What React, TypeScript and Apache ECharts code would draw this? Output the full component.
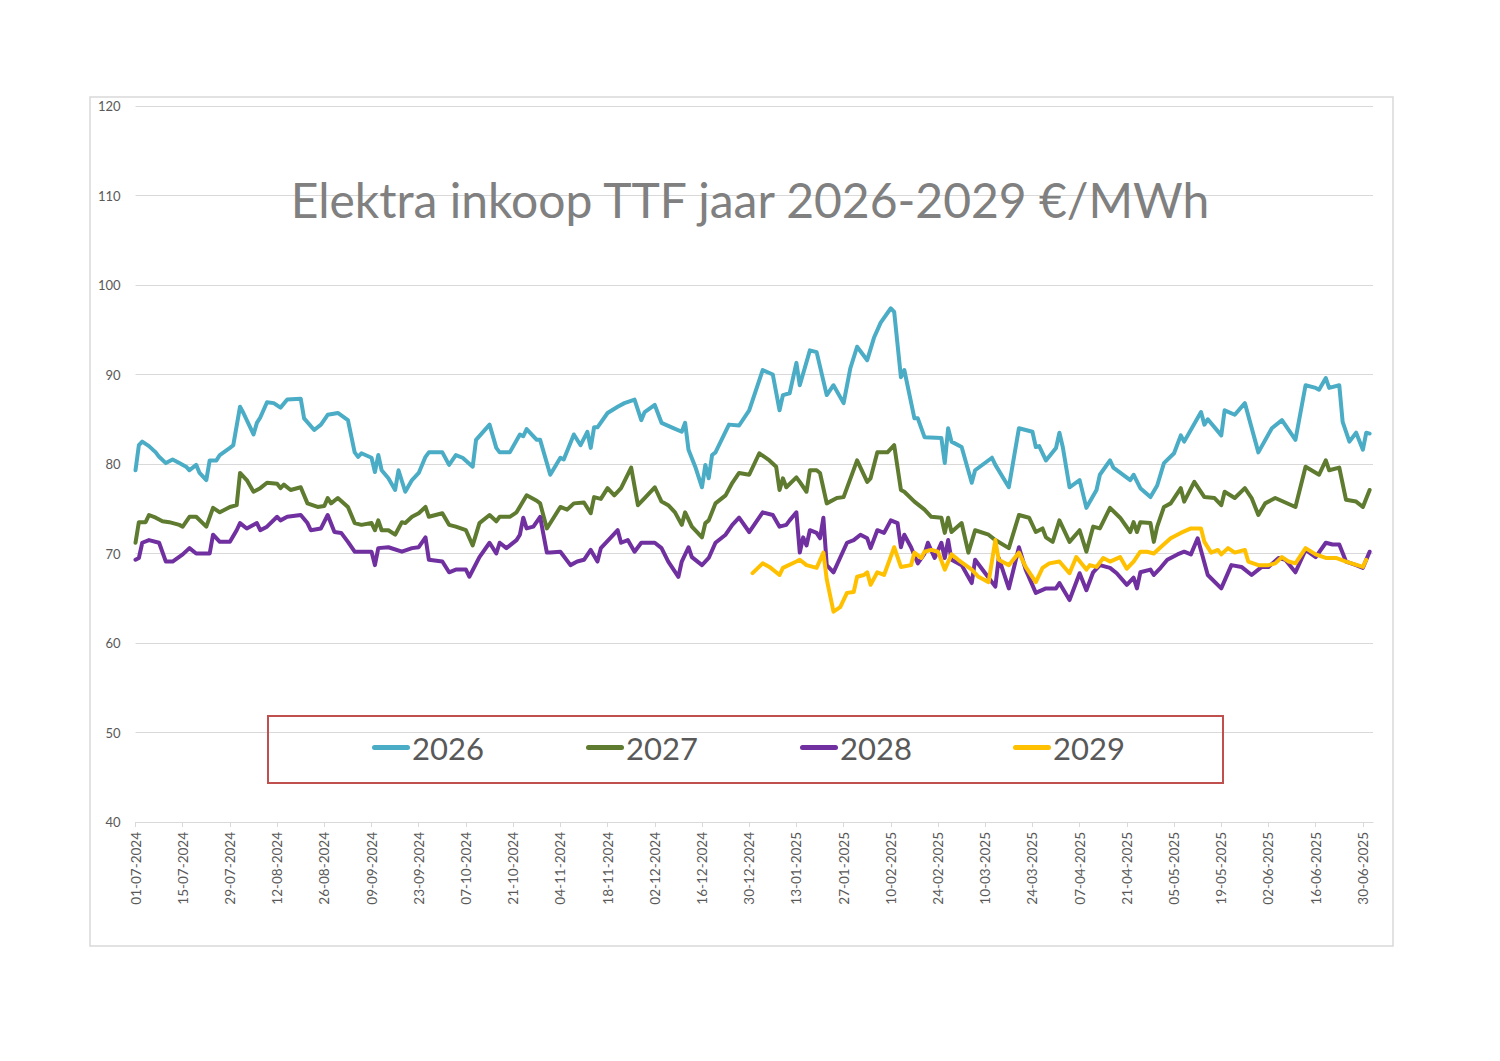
import React, { useEffect, useRef } from "react";
import * as echarts from "echarts";

// Day offsets from 01-07-2024 and values (€/MWh)
const days2026 = [0,1,2,4,6,7,9,11,13,15,16,18,19,21,22,24,25,28,29,31,32,35,36,37,39,41,43,45,49,50,53,55,57,60,63,65,66,67,70,71,72,73,75,77,78,80,82,84,86,87,91,93,95,97,100,101,105,107,108,111,114,115,116,119,120,123,126,127,130,132,134,135,136,137,140,143,145,148,150,151,154,156,159,162,163,164,166,168,169,170,171,172,176,179,182,186,189,191,192,194,196,197,200,202,205,207,210,212,214,217,219,221,224,225,227,228,231,232,234,239,240,241,242,245,248,249,254,255,259,262,264,266,267,268,270,273,274,275,277,280,282,285,286,289,290,295,296,298,301,303,305,308,310,311,316,317,318,322,323,326,329,333,337,340,344,347,350,351,353,354,357,358,360,362,364,365,366];
const vals2026 = [79.3,82.1,82.5,82.0,81.3,80.8,80.1,80.5,80.1,79.7,79.3,79.9,79.0,78.2,80.4,80.4,81.0,81.8,82.1,86.4,85.7,83.3,84.6,85.2,86.9,86.8,86.3,87.2,87.3,85.1,83.8,84.4,85.5,85.7,84.9,81.3,80.8,81.2,80.7,79.1,81.0,79.3,78.4,77.1,79.3,76.9,78.2,79.0,80.8,81.3,81.3,79.9,81.0,80.7,79.7,82.7,84.4,81.8,81.3,81.3,83.3,83.1,83.9,82.7,82.7,78.8,80.7,80.5,83.3,82.1,83.6,81.8,84.1,84.1,85.7,86.4,86.8,87.2,84.9,85.8,86.6,84.6,84.1,83.6,84.6,81.6,79.7,77.4,79.9,78.4,81.0,81.3,84.4,84.3,86.0,90.5,90.0,86.0,87.7,87.9,91.3,88.8,92.7,92.5,87.7,88.8,86.8,90.7,93.1,91.6,94.1,95.8,97.4,97.0,89.7,90.5,85.1,85.1,83.0,82.9,80.1,84.0,82.5,81.9,77.9,79.3,80.7,79.9,77.4,84.0,83.8,83.6,81.9,82.0,80.4,81.8,83.5,81.9,77.4,78.2,75.1,77.1,78.8,80.4,79.6,78.2,78.8,77.3,76.3,77.6,80.1,81.2,83.2,82.5,85.8,84.4,85.0,83.2,86.0,85.5,86.8,81.3,84.0,84.9,82.7,88.8,88.5,88.3,89.6,88.5,88.8,84.7,82.5,83.5,81.6,83.5,83.4];

const days2027 = [0,1,3,4,6,8,10,13,14,16,18,21,23,25,28,30,31,33,35,37,39,42,43,44,46,49,51,54,56,57,58,60,63,65,67,70,71,72,73,75,77,79,80,82,84,86,87,91,93,95,98,100,102,105,107,108,111,113,116,119,120,122,124,126,128,130,133,135,136,138,140,142,144,147,149,151,154,156,158,160,162,163,165,168,169,170,172,175,177,179,182,185,188,190,191,192,193,196,197,199,200,202,203,205,208,210,214,217,218,220,223,225,227,228,231,234,236,239,240,241,242,245,247,249,253,255,259,262,265,267,269,270,272,274,277,280,282,284,286,289,292,295,296,297,298,301,302,303,305,307,310,311,314,317,320,322,323,326,329,331,333,335,338,344,347,351,353,354,357,359,362,364,366];
const vals2027 = [71.2,73.5,73.5,74.3,74.0,73.6,73.5,73.2,73.0,74.1,74.1,73.0,75.1,74.6,75.2,75.4,79.0,78.2,76.9,77.3,77.9,77.8,77.3,77.7,77.1,77.4,75.6,75.2,75.3,76.2,75.6,76.2,75.2,73.4,73.2,73.4,72.6,73.7,72.6,72.6,72.1,73.5,73.4,74.1,74.5,75.2,74.1,74.5,73.2,73.0,72.6,70.9,73.4,74.3,73.6,74.1,74.1,74.6,76.5,75.9,75.6,72.8,74.0,75.2,74.9,75.6,75.7,74.5,76.3,76.1,77.3,76.5,77.3,79.6,75.4,76.2,77.4,75.8,75.4,74.6,73.2,74.6,73.0,71.8,73.4,73.7,75.6,76.5,77.9,79.0,78.8,81.2,80.4,79.7,77.1,78.4,77.4,78.5,78.0,76.9,79.3,79.3,79.0,75.6,76.2,76.3,80.4,78.0,78.4,81.3,81.3,82.1,77.1,76.9,75.8,74.9,74.1,74.0,72.3,74.0,72.4,73.4,70.1,72.6,72.1,71.5,70.6,74.3,74.0,72.4,72.8,71.8,71.3,73.7,71.3,72.6,70.2,73.0,72.8,75.1,74.0,72.4,73.5,72.4,73.5,73.4,71.3,73.0,75.2,75.6,77.3,75.8,78.0,76.3,76.2,75.4,76.9,76.2,77.3,76.2,74.3,75.6,76.2,75.2,79.7,78.8,80.4,79.3,79.6,76.0,75.8,75.2,77.1];

const days2028 = [0,1,2,4,7,9,11,14,16,18,22,23,25,28,30,31,33,36,37,39,42,43,45,49,51,52,55,57,59,61,63,65,70,71,72,75,79,82,84,86,87,91,93,95,98,99,102,105,107,108,110,113,114,115,116,118,120,122,123,126,129,131,133,135,137,138,141,143,144,146,148,150,154,156,158,161,162,164,165,168,170,172,175,177,179,182,186,189,191,193,194,196,197,198,199,200,202,203,204,205,207,211,213,215,217,218,220,222,224,226,227,228,230,232,234,235,237,239,240,241,242,245,248,249,252,255,256,259,262,264,267,270,273,274,277,280,282,284,286,289,291,294,296,297,298,301,302,304,306,309,311,313,315,318,322,325,328,331,334,336,339,341,344,347,350,353,355,357,359,362,364,366];
const vals2028 = [69.3,69.5,71.2,71.5,71.2,69.1,69.1,69.9,70.6,70.0,70.0,72.1,71.3,71.3,72.6,73.4,72.8,73.4,72.6,73.0,74.1,73.7,74.1,74.3,73.4,72.6,72.8,74.3,72.4,72.3,71.3,70.2,70.2,68.7,70.6,70.7,70.2,70.6,70.7,71.8,69.3,69.1,67.9,68.2,68.2,67.4,69.6,71.2,70.0,71.2,70.6,71.5,72.1,74.0,72.8,73.0,74.1,70.1,70.1,70.2,68.7,69.1,69.3,70.4,69.1,70.6,71.8,72.6,71.2,71.5,70.2,71.2,71.2,70.6,69.1,67.4,69.1,70.7,69.6,68.7,69.5,71.2,72.1,73.2,74.0,72.4,74.6,74.3,73.0,73.2,73.7,74.6,70.1,71.8,70.9,72.6,72.3,71.7,74.0,68.7,67.9,71.2,71.5,72.1,71.7,70.6,72.6,72.3,73.7,73.4,70.7,72.1,70.7,68.9,70.0,71.2,69.5,71.2,69.5,71.5,69.3,68.7,66.7,69.3,67.8,66.3,69.5,66.1,70.7,68.2,65.6,66.1,66.1,66.7,64.8,67.8,65.9,67.9,68.7,68.4,67.8,66.5,67.3,66.1,67.9,68.2,67.6,68.4,69.3,69.9,70.2,69.9,71.7,67.6,66.1,68.7,68.5,67.6,68.5,68.5,69.5,69.3,67.9,70.4,69.6,71.2,71.0,71.0,69.1,68.7,68.4,70.2];

const days2029 = [183,186,188,191,192,196,197,199,202,204,205,207,209,211,213,214,216,217,218,220,222,225,227,230,231,233,234,236,238,240,242,244,248,250,253,255,256,259,262,264,267,269,271,274,277,279,282,283,285,287,289,292,294,296,298,300,302,304,307,310,313,316,317,319,321,322,324,326,329,330,333,336,338,340,342,344,347,350,353,356,359,364,365];
const vals2029 = [67.8,68.9,68.5,67.6,68.4,69.1,69.3,68.7,68.4,70.1,67.1,63.5,64.0,65.6,65.7,67.4,67.6,67.9,66.5,67.9,67.6,70.7,68.5,68.7,70.1,69.5,70.2,70.4,70.2,68.2,69.9,69.3,68.2,67.4,66.8,71.5,69.3,68.7,70.1,68.5,66.8,68.4,68.9,69.1,67.8,69.6,68.2,68.7,68.5,69.5,69.1,69.6,68.3,69.1,70.2,70.2,70.0,70.7,71.7,72.3,72.8,72.8,71.3,70.1,70.4,69.9,70.6,70.1,70.4,69.1,68.7,68.7,68.9,69.6,69.1,68.9,70.6,69.9,69.5,69.5,69.1,68.5,69.3];

const seriesNames = ["2026", "2027", "2028", "2029"];
const seriesColors = ["#4bacc6", "#5e7b2f", "#7030a0", "#ffc000"];
const seriesDays = [days2026, days2027, days2028, days2029];
const seriesVals = [vals2026, vals2027, vals2028, vals2029];

const tickDays = [0,14,28,42,56,70,84,98,112,126,140,154,168,182,196,210,224,238,252,266,280,294,308,322,336,350,364];
const yTicks = [40, 50, 60, 70, 80, 90, 100, 110, 120];

const START = Date.UTC(2024, 6, 1);
const pad = (n: number) => (n < 10 ? "0" + n : "" + n);
const fmtDay = (v: number) => {
  const d = new Date(START + Math.round(v) * 86400000);
  return pad(d.getUTCDate()) + "-" + pad(d.getUTCMonth() + 1) + "-" + d.getUTCFullYear();
};

const FONT = "Lato, 'Open Sans', sans-serif";
const legendLefts = [372, 586, 800, 1013];
const capsule = "path://M2.5,0H35.5A2.5,2.5,0,0,1,35.5,5H2.5A2.5,2.5,0,0,1,2.5,0Z";

export default function App() {
  const ref = useRef<HTMLDivElement>(null);
  useEffect(() => {
    if (!ref.current) return;
    const chart = echarts.init(ref.current, undefined, { renderer: "svg" });
    const option: any = {
      animation: false,
      backgroundColor: "#ffffff",
      textStyle: { fontFamily: FONT },
      title: {
        text: "Elektra inkoop TTF jaar 2026-2029 €/MWh",
        left: "center",
        top: 170,
        padding: [5, 5, 5, 13],
        textStyle: { fontFamily: FONT, fontSize: 48, fontWeight: "normal", color: "#808080" },
      },
      grid: { left: 135.5, right: 127, top: 106, bottom: 239, containLabel: false },
      xAxis: {
        type: "value",
        min: 0,
        max: 367,
        interval: 14,
        axisLine: { show: true, lineStyle: { color: "#d9d9d9", width: 1 } },
        axisTick: { show: true, length: 5, lineStyle: { color: "#d9d9d9" }, customValues: tickDays },
        axisLabel: {
          rotate: 90,
          margin: 10,
          color: "#595959",
          fontSize: 13.5,
          fontFamily: FONT,
          customValues: tickDays,
          formatter: (v: number) => fmtDay(v),
        },
        splitLine: { show: false },
      },
      yAxis: {
        type: "value",
        min: yTicks[0],
        max: yTicks[yTicks.length - 1],
        interval: 10,
        axisLine: { show: false },
        axisTick: { show: false },
        axisLabel: { color: "#595959", fontSize: 13, margin: 15, fontFamily: FONT },
        splitLine: { lineStyle: { color: "#d9d9d9", width: 1 } },
      },
      legend: seriesNames.map((n, i) => ({
        data: [n],
        left: legendLefts[i],
        top: 732,
        icon: capsule,
        itemWidth: 38,
        itemHeight: 5,
        itemGap: 0,
        padding: 0,
        textStyle: { color: "#595959", fontSize: 31, fontFamily: FONT, padding: [0, 0, 0, -3] },
      })),
      graphic: [
        {
          type: "rect",
          shape: { x: 90, y: 97, width: 1303, height: 849 },
          style: { fill: "none", stroke: "#d9d9d9", lineWidth: 1.5 },
          silent: true,
          z: -10,
        },
        {
          type: "rect",
          shape: { x: 268, y: 716, width: 955, height: 67 },
          style: { fill: "none", stroke: "#c0504d", lineWidth: 2 },
          silent: true,
          z: 10,
        },
      ],
      series: seriesNames.map((n, i) => ({
        name: n,
        type: "line",
        symbol: "none",
        showSymbol: false,
        color: seriesColors[i],
        lineStyle: { width: 4, color: seriesColors[i], join: "round", cap: "round" },
        data: seriesDays[i].map((d, j) => [d, seriesVals[i][j]]),
      })),
    };
    chart.setOption(option);
    return () => chart.dispose();
  }, []);
  return (
    <div
      ref={ref}
      style={{ position: "absolute", left: 0, top: 0, width: 1500, height: 1061, background: "#fff" }}
    />
  );
}
